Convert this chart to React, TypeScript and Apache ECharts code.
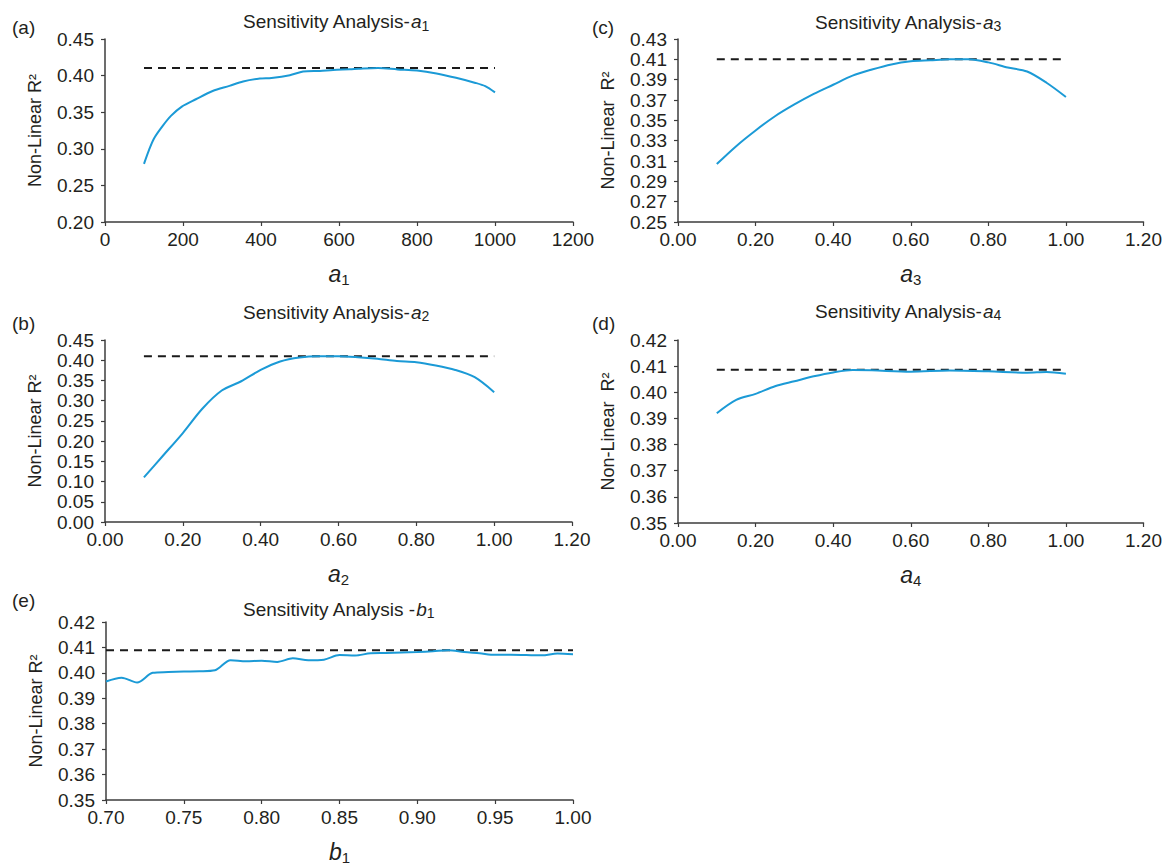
import React, { useEffect, useRef } from "react";
import * as echarts from "echarts";

// ---------- data ----------
const a1X = [100, 113, 126, 148, 169, 197, 233, 276, 319, 354, 397, 427, 474, 508, 551, 585, 628, 650, 700, 750, 800, 850, 900, 950, 975, 1000];
const a1Y = [0.2795, 0.2986, 0.3145, 0.3314, 0.345, 0.3577, 0.3677, 0.379, 0.386, 0.392, 0.396, 0.3968, 0.4005, 0.4055, 0.4064, 0.4077, 0.4086, 0.4093, 0.4103, 0.4085, 0.407, 0.403, 0.397, 0.39, 0.3855, 0.377];
const a1Ref = 0.4105;

const a2X = [0.1, 0.15, 0.2, 0.25, 0.3, 0.35, 0.4, 0.45, 0.5, 0.55, 0.6, 0.65, 0.7, 0.75, 0.8, 0.85, 0.9, 0.95, 1.0];
const a2Y = [0.1105, 0.165, 0.22, 0.28, 0.325, 0.348, 0.376, 0.397, 0.407, 0.41, 0.41, 0.4075, 0.4035, 0.398, 0.395, 0.387, 0.376, 0.358, 0.321];
const a2Ref = 0.41;

const a3X = [0.1, 0.15, 0.2, 0.25, 0.3, 0.35, 0.4, 0.45, 0.5, 0.55, 0.6, 0.65, 0.7, 0.75, 0.8, 0.85, 0.9, 0.95, 1.0];
const a3Y = [0.307, 0.3246, 0.34, 0.354, 0.3656, 0.376, 0.385, 0.394, 0.4, 0.405, 0.408, 0.409, 0.41, 0.41, 0.407, 0.402, 0.398, 0.387, 0.373];
const a3Ref = 0.41;

const a4X = [0.1, 0.15, 0.2, 0.25, 0.3, 0.35, 0.4, 0.45, 0.5, 0.6, 0.7, 0.8, 0.9, 0.95, 1.0];
const a4Y = [0.392, 0.3971, 0.3994, 0.4023, 0.4042, 0.4061, 0.4076, 0.4085, 0.4084, 0.4079, 0.4083, 0.408, 0.4075, 0.4078, 0.4071];
const a4Ref = 0.4086;

const b1X = [0.7, 0.71, 0.72, 0.73, 0.74, 0.75, 0.76, 0.77, 0.78, 0.79, 0.8, 0.81, 0.82, 0.83, 0.84, 0.85, 0.86, 0.87, 0.88, 0.89, 0.9, 0.91, 0.92, 0.93, 0.94, 0.95, 0.96, 0.97, 0.98, 0.99, 1.0];
const b1Y = [0.3966, 0.3981, 0.3962, 0.4, 0.4003, 0.4005, 0.4006, 0.401, 0.405, 0.4046, 0.4048, 0.4043, 0.4057, 0.405, 0.4052, 0.407, 0.4068, 0.4077, 0.4078, 0.408, 0.4082, 0.4085, 0.4089, 0.4082, 0.4077, 0.4071, 0.4071, 0.407, 0.4069, 0.4076, 0.4073];
const b1Ref = 0.4089;

const panelLabels = ["(a)", "(b)", "(c)", "(d)", "(e)"];
const titleNames = ["Sensitivity Analysis-", "Sensitivity Analysis-", "Sensitivity Analysis-", "Sensitivity Analysis-", "Sensitivity Analysis -"];
const varLetters = ["a", "a", "a", "a", "b"];
const varSubs = ["1", "2", "3", "4", "1"];
const yNames = ["Non-Linear R\u00B2", "Non-Linear R\u00B2", "Non-Linear  R\u00B2", "Non-Linear  R\u00B2", "Non-Linear R\u00B2"];

// ---------- styling / layout ----------
const FONT = "'Liberation Sans', Arial, Helvetica, sans-serif";
const TXT = "#231f20";
const AXIS = "#3c3c3c";
const BLUE = "#1b9ad6";

const layout = [
  // a1
  { grid: { left: 105, top: 39, width: 468, height: 183 }, x: [0, 1200, 200, 0], y: [0.2, 0.45, 0.05], label: [12, 16], title: [243, 10.5] },
  // a2
  { grid: { left: 105, top: 340, width: 467, height: 182 }, x: [0, 1.2, 0.2, 2], y: [0, 0.45, 0.05], label: [12, 312], title: [243, 301] },
  // a3
  { grid: { left: 678, top: 39, width: 472, height: 183 }, x: [0, 1.2, 0.2, 2], y: [0.25, 0.43, 0.02], label: [592, 16.5], title: [815, 11] },
  // a4
  { grid: { left: 678, top: 340, width: 472, height: 183 }, x: [0, 1.2, 0.2, 2], y: [0.35, 0.42, 0.01], label: [592, 312], title: [815, 300] },
  // b1
  { grid: { left: 106, top: 622, width: 467, height: 183 }, x: [0.7, 1.0, 0.05, 2], y: [0.35, 0.42, 0.01], label: [12, 589], title: [243, 598] },
];

const seriesX = [a1X, a2X, a3X, a4X, b1X];
const seriesY = [a1Y, a2Y, a3Y, a4Y, b1Y];
const refs = [a1Ref, a2Ref, a3Ref, a4Ref, b1Ref];

function buildOption() {
  const titles: any[] = [];
  const grids: any[] = [];
  const xAxes: any[] = [];
  const yAxes: any[] = [];
  const series: any[] = [];

  layout.forEach((p, i) => {
    titles.push({
      text: panelLabels[i],
      left: p.label[0],
      top: p.label[1],
      padding: 0,
      textStyle: { fontSize: 19, lineHeight: 22, fontWeight: "normal", color: TXT, fontFamily: FONT },
    });
    titles.push({
      text: `${titleNames[i]}{i|${varLetters[i]}}{s|${varSubs[i]}}`,
      left: p.title[0],
      top: p.title[1],
      padding: 0,
      textStyle: {
        fontSize: 19,
        lineHeight: 22,
        fontWeight: "normal",
        color: TXT,
        fontFamily: FONT,
        rich: {
          i: { fontStyle: "italic", fontSize: 19, lineHeight: 22, color: TXT, fontFamily: FONT },
          s: { fontSize: 14, lineHeight: 13, verticalAlign: "bottom", color: TXT, fontFamily: FONT },
        },
      },
    });

    grids.push({ ...p.grid, containLabel: false });

    const dec = p.x[3];
    xAxes.push({
      type: "value",
      gridIndex: i,
      min: p.x[0],
      max: p.x[1],
      interval: p.x[2],
      name: `{i|${varLetters[i]}}{s|${varSubs[i]}}`,
      nameLocation: "middle",
      nameGap: 39,
      nameTextStyle: {
        color: TXT,
        fontFamily: FONT,
        rich: {
          i: { fontStyle: "italic", fontSize: 23, lineHeight: 26, color: TXT, fontFamily: FONT },
          s: { fontSize: 15, lineHeight: 15, verticalAlign: "bottom", color: TXT, fontFamily: FONT },
        },
      },
      axisLine: { show: true, lineStyle: { color: AXIS, width: 1.5 } },
      axisTick: { show: true, inside: false, length: 4, lineStyle: { color: AXIS, width: 1.2 } },
      axisLabel: {
        margin: 8,
        fontSize: 19,
        color: TXT,
        fontFamily: FONT,
        formatter: (v: number) => v.toFixed(dec),
      },
      splitLine: { show: false },
    });

    yAxes.push({
      type: "value",
      gridIndex: i,
      min: p.y[0],
      max: p.y[1],
      interval: p.y[2],
      name: yNames[i],
      nameLocation: "middle",
      nameGap: 60,
      nameTextStyle: { fontSize: 18, lineHeight: 20, color: TXT, fontFamily: FONT },
      axisLine: { show: true, lineStyle: { color: AXIS, width: 1.5 } },
      axisTick: { show: true, inside: false, length: 4, lineStyle: { color: AXIS, width: 1.2 } },
      axisLabel: {
        margin: 11,
        fontSize: 19,
        color: TXT,
        fontFamily: FONT,
        formatter: (v: number) => v.toFixed(2),
      },
      splitLine: { show: false },
    });

    const xs = seriesX[i];
    const ys = seriesY[i];
    series.push({
      type: "line",
      xAxisIndex: i,
      yAxisIndex: i,
      data: [
        [xs[0], refs[i]],
        [xs[xs.length - 1], refs[i]],
      ],
      showSymbol: false,
      symbol: "none",
      lineStyle: { color: "#1a1a1a", width: 2, type: [8, 6] },
      z: 3,
    });
    series.push({
      type: "line",
      xAxisIndex: i,
      yAxisIndex: i,
      data: xs.map((x, k) => [x, ys[k]]),
      showSymbol: false,
      symbol: "none",
      smooth: 0.3,
      lineStyle: { color: BLUE, width: 2 },
      z: 4,
    });
  });

  return {
    animation: false,
    backgroundColor: "#ffffff",
    title: titles,
    grid: grids,
    xAxis: xAxes,
    yAxis: yAxes,
    series,
  };
}

export default function App() {
  const ref = useRef<HTMLDivElement | null>(null);
  useEffect(() => {
    if (!ref.current) return;
    const chart = echarts.init(ref.current, undefined, { renderer: "svg" });
    chart.setOption(buildOption() as any);
    return () => {
      chart.dispose();
    };
  }, []);
  return (
    <div
      ref={ref}
      style={{ position: "fixed", left: 0, top: 0, width: 1165, height: 866, background: "#fff" }}
    />
  );
}
